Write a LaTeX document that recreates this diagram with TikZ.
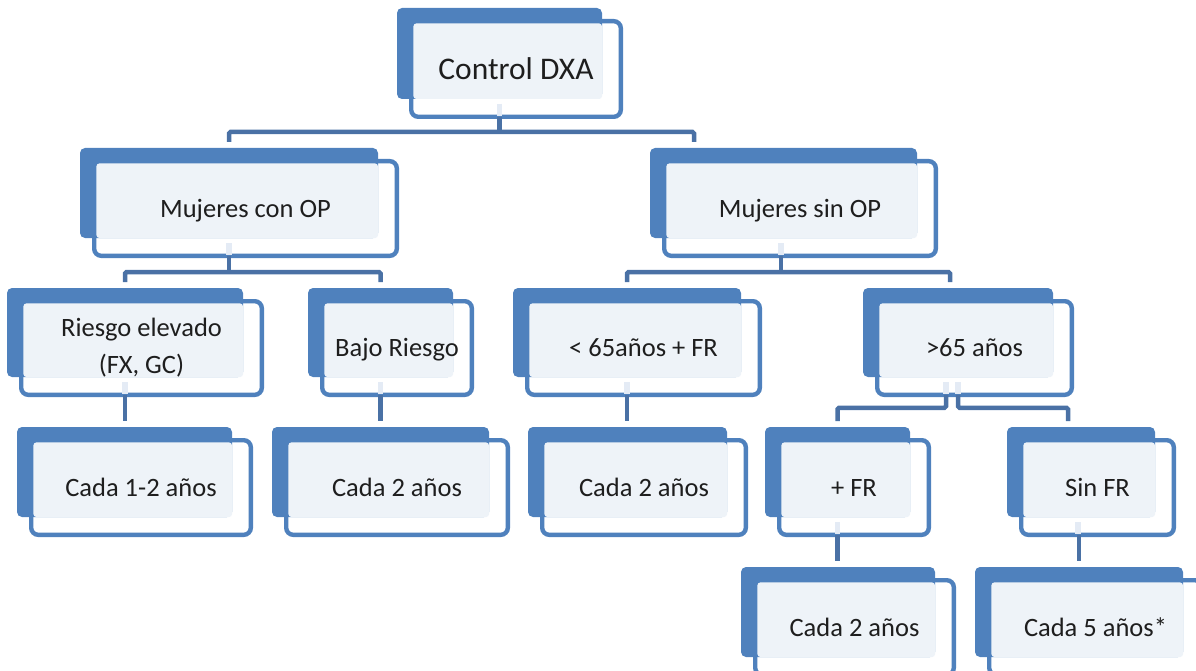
\documentclass[tikz,border=0pt]{standalone}
\usepackage{fontspec}
\setmainfont{Carlito}
\usetikzlibrary{calc}
\definecolor{accent}{RGB}{79,129,189}
\definecolor{connc}{RGB}{74,113,165}
\definecolor{lightf}{RGB}{238,243,248}
\definecolor{stubc}{RGB}{228,235,245}
\definecolor{txt}{RGB}{30,30,30}
\tikzset{
  frontbox/.style={draw=accent, line width=4.4pt, fill=white, rounded corners=7pt, inner sep=0pt, outer sep=0pt},
  backbox/.style={fill=accent, rounded corners=5pt, inner sep=0pt, outer sep=0pt},
  lightbox/.style={fill=lightf, rounded corners=3pt, inner sep=0pt, outer sep=0pt},
  boxtext/.style={font=\fontsize{26.5}{37}\selectfont, text=txt, inner sep=0pt, text height=17pt, text depth=0pt},
  roottext/.style={font=\fontsize{31.5}{38}\selectfont, text=txt, inner sep=0pt, text height=20.3pt, text depth=0pt},
  twotext/.style={font=\fontsize{26.5}{37}\selectfont, text=txt, inner sep=0pt, align=center},
  conn/.style={draw=connc, line width=4.5pt, rounded corners=1.5pt},
  stub/.style={draw=stubc, line width=5.5pt},
}
\newcommand\dxbox[7]{%
  \pgfmathsetmacro\bw{#4-#2}\pgfmathsetmacro\bh{#5-#3}%
  \pgfmathsetmacro\bcx{(#2+#4)/2}\pgfmathsetmacro\bcy{(#3+#5)/2}%
  \node[frontbox, minimum width=\bw pt+4.6pt, minimum height=\bh pt+4.6pt] (#1f) at (\bcx+16.5,\bcy+15.5) {};
  \node[backbox, minimum width=\bw pt, minimum height=\bh pt] (#1) at (\bcx,\bcy) {};
  \node[lightbox, minimum width=\bw pt-16.4pt, minimum height=\bh pt-15.4pt] (#1l) at (\bcx+8.2,\bcy+7.7) {};
  \node[#6] (#1t) at (#1f.center) {#7};
}
\begin{document}
\begin{tikzpicture}[x=1pt,y=-1pt]
\path[use as bounding box] (0,0) rectangle (1196,671);
\clip (0,0) rectangle (1196,671);

% boxes
\dxbox{A}{397}{8}{602}{99}{roottext}{Control DXA}
\dxbox{B}{80}{148}{378}{238}{boxtext}{Mujeres con OP}
\dxbox{C}{650}{148}{917}{238}{boxtext}{Mujeres sin OP}
\dxbox{D}{7}{288}{243}{377}{twotext}{Riesgo elevado\\(FX, GC)}
\dxbox{E}{308}{288}{453}{377}{boxtext}{Bajo Riesgo}
\dxbox{F}{513}{288}{741}{377}{boxtext}{< 65años + FR}
\dxbox{G}{863}{288}{1053}{377}{boxtext}{>65 años}
\dxbox{H}{17}{427}{232}{517}{boxtext}{Cada 1-2 años}
\dxbox{I}{272}{427}{489}{517}{boxtext}{Cada 2 años}
\dxbox{J}{528}{427}{727}{517}{boxtext}{Cada 2 años}
\dxbox{K}{765}{427}{910}{517}{boxtext}{+ FR}
\dxbox{L}{1007}{427}{1155}{517}{boxtext}{Sin FR}
\dxbox{M}{741}{567}{935}{657}{boxtext}{Cada 2 años}
\dxbox{N}{975}{567}{1183}{657}{boxtext}{Cada 5 años*}

% light stubs inside the front boxes
\foreach \n in {A,B,D,E,F,K}{
  \draw[stub] ($(\n.south)+(0,5)$) -- ($(\n.south)+(0,17)$);
}
\draw[stub] ($(C.south)+(-2.5,5)$) -- ($(C.south)+(-2.5,17)$);
\draw[stub] ($(G.south)+(0,5)$) -- ($(G.south)+(0,17)$);
\draw[stub] ($(G.south)+(-12,5)$) -- ($(G.south)+(-12,17)$);
\draw[stub] ($(L.south)+(-3,5)$) -- ($(L.south)+(-3,17)$);

% connectors
\coordinate (jA) at ($(A.south)+(0,33)$);
\coordinate (cC) at (694,142);
\draw[conn] (Af.south -| A.south) -- (jA);
\draw[conn] ($(B.north)+(0,-6)$) |- (cC |- jA) -- (cC);

\coordinate (jB) at ($(B.south)+(0,34)$);
\draw[conn] (Bf.south -| B.south) -- (jB);
\draw[conn] ($(D.north)+(0,-6)$) -- (D.north |- jB) -- (E.north |- jB) -- ($(E.north)+(0,-6)$);

\coordinate (jC) at ($(C.south)+(-2.5,34)$);
\coordinate (gIn) at (950,282);
\draw[conn] (Cf.south -| jC) -- (jC);
\draw[conn] ($(F.north)+(0,-6)$) -- (F.north |- jC) -- (gIn |- jC) -- (gIn);

\draw[conn] (Df.south -| D.south) -- ($(H.north -| D.south)+(0,-6)$);
\draw[conn] (Ef.south -| E.south) -- ($(I.north -| E.south)+(0,-6)$);
\draw[conn] (Ff.south -| F.south) -- ($(J.north -| F.south)+(0,-6)$);

\coordinate (lIn) at (1068,421);
\draw[conn] ($(Gf.south -| G.south)+(-12,0)$) -- ++(0,13) -| ($(K.north)+(0,-6)$);
\draw[conn] (Gf.south -| G.south) -- ++(0,13) -| (lIn);

\draw[conn] (Kf.south -| K.south) -- ($(M.north -| K.south)+(0,-6)$);
\draw[conn] (Lf.south -| N.north) -- ($(N.north)+(0,-6)$);
\end{tikzpicture}
\end{document}
